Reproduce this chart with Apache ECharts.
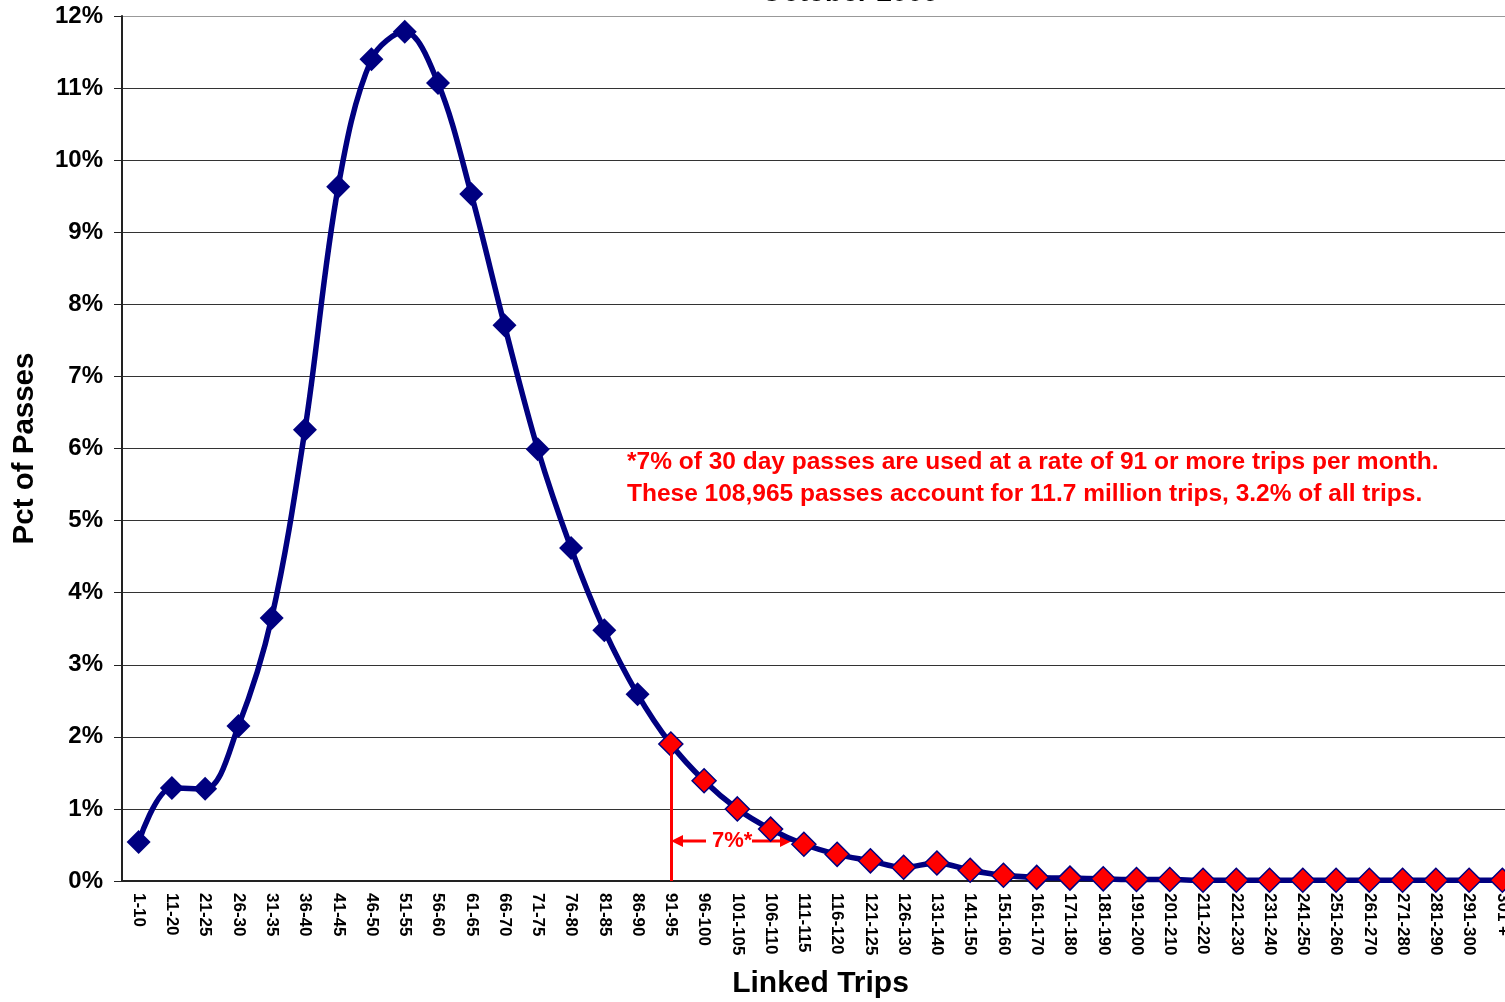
<!DOCTYPE html>
<html>
<head>
<meta charset="utf-8">
<script src="https://cdn.jsdelivr.net/npm/echarts@6/dist/echarts.min.js"></script>
<style>
  html, body { margin: 0; padding: 0; background: #fff; }
  #chart { width: 1505px; height: 1002px; }
</style>
</head>
<body>
<div id="chart"></div>
<script>
// trip count buckets
const categories = ['1-10', '11-20', '21-25', '26-30', '31-35', '36-40', '41-45', '46-50', '51-55', '56-60',
  '61-65', '66-70', '71-75', '76-80', '81-85', '86-90', '91-95', '96-100', '101-105', '106-110',
  '111-115', '116-120', '121-125', '126-130', '131-140', '141-150', '151-160', '161-170', '171-180', '181-190',
  '191-200', '201-210', '211-220', '221-230', '231-240', '241-250', '251-260', '261-270', '271-280', '281-290',
  '291-300', '301 +']
// pct of passes
const pctPasses = [0.54, 1.29, 1.28, 2.15, 3.65, 6.26, 9.63, 11.40, 11.78, 11.07,
  9.53, 7.71, 5.99, 4.62, 3.48, 2.59, 1.90, 1.39, 1.00, 0.72,
  0.51, 0.37, 0.28, 0.19, 0.25, 0.15, 0.08, 0.05, 0.04, 0.03,
  0.02, 0.02, 0.01, 0.01, 0.01, 0.01, 0.01, 0.01, 0.01, 0.01,
  0.01, 0.01]
const yTicks = [0, 1, 2, 3, 4, 5, 6, 7, 8, 9, 10, 11, 12]
const highlightFrom = '91-95'

const navy = '#000080'
const red = '#ff0000'
const font = '"Liberation Sans", Arial, sans-serif'

const chart = echarts.init(document.getElementById('chart'))
const startIdx = categories.indexOf(highlightFrom)

const seriesData = pctPasses.map((v, i) => {
  if (i < startIdx) return v
  return { value: v, itemStyle: { color: red, borderColor: navy, borderWidth: 1.5 } }
})

// top gridline is lighter grey
const splitColors = yTicks.map((t, i) => (i === yTicks.length - 1 ? '#999' : '#333'))

const options = {
  backgroundColor: '#fff',
  animation: false,
  grid: {
    left: 122,
    right: -14,
    top: 16,
    bottom: 121,
    outerBoundsMode: 'none',
    containLabel: false
  },
  xAxis: {
    type: 'category',
    data: categories,
    name: 'Linked Trips',
    nameLocation: 'middle',
    nameGap: 88,
    nameMoveOverlap: false,
    nameTextStyle: { fontFamily: font, fontWeight: 'bold', fontSize: 30, color: '#000' },
    axisLine: { lineStyle: { color: '#222', width: 2 } },
    axisTick: { length: 6, lineStyle: { color: '#222' } },
    axisLabel: {
      interval: 0,
      rotate: -90,
      margin: 12,
      fontFamily: font,
      fontWeight: 'bold',
      fontSize: 17,
      color: '#000'
    }
  },
  yAxis: {
    type: 'value',
    min: 0,
    max: 12,
    interval: 1,
    name: 'Pct of Passes',
    nameLocation: 'middle',
    nameGap: 82,
    nameMoveOverlap: false,
    nameRotate: 90,
    nameTextStyle: { fontFamily: font, fontWeight: 'bold', fontSize: 29.5, color: '#000' },
    axisLine: { show: true, lineStyle: { color: '#222', width: 2 } },
    axisTick: { show: true, length: 8, lineStyle: { color: '#222' } },
    axisLabel: {
      formatter: '{value}%',
      margin: 19,
      fontFamily: font,
      fontWeight: 'bold',
      fontSize: 24,
      color: '#000'
    },
    splitLine: { lineStyle: { color: splitColors, width: 1 } }
  },
  series: [{
    type: 'line',
    data: seriesData,
    smooth: 0.35,
    symbol: 'diamond',
    symbolSize: 24,
    lineStyle: { color: navy, width: 5.5 },
    itemStyle: { color: navy },
    markLine: {
      silent: true,
      symbol: 'none',
      label: { show: false },
      lineStyle: { color: red, width: 3, type: 'solid' },
      data: [[
        { coord: [highlightFrom, pctPasses[startIdx]] },
        { coord: [highlightFrom, 0] }
      ]]
    },
    z: 3
  }],
  graphic: [
    {
      type: 'text',
      style: {
        text: 'October 2009',
        x: 850, y: -7,
        textAlign: 'center',
        textVerticalAlign: 'middle',
        font: 'bold 28px ' + font,
        fill: '#000'
      }
    },
    {
      type: 'text',
      style: {
        text: '*7% of 30 day passes are used at a rate of 91 or more trips per month.\nThese 108,965 passes account for 11.7 million trips, 3.2% of all trips.',
        x: 627, y: 446,
        font: 'bold 24.5px ' + font,
        lineHeight: 32,
        fill: red
      }
    },
    // 7%* arrows
    { type: 'line', shape: { x1: 680, y1: 841, x2: 706, y2: 841 }, style: { stroke: red, lineWidth: 3 } },
    { type: 'polygon', shape: { points: [[671, 841], [683, 835], [683, 847]] }, style: { fill: red } },
    {
      type: 'text',
      style: { text: '7%*', x: 712, y: 841, textVerticalAlign: 'middle', font: 'bold 22px ' + font, fill: red }
    },
    { type: 'line', shape: { x1: 752, y1: 841, x2: 782, y2: 841 }, style: { stroke: red, lineWidth: 3 } },
    { type: 'polygon', shape: { points: [[792, 841], [780, 835], [780, 847]] }, style: { fill: red } }
  ]
}

chart.setOption(options)
</script>
</body>
</html>
